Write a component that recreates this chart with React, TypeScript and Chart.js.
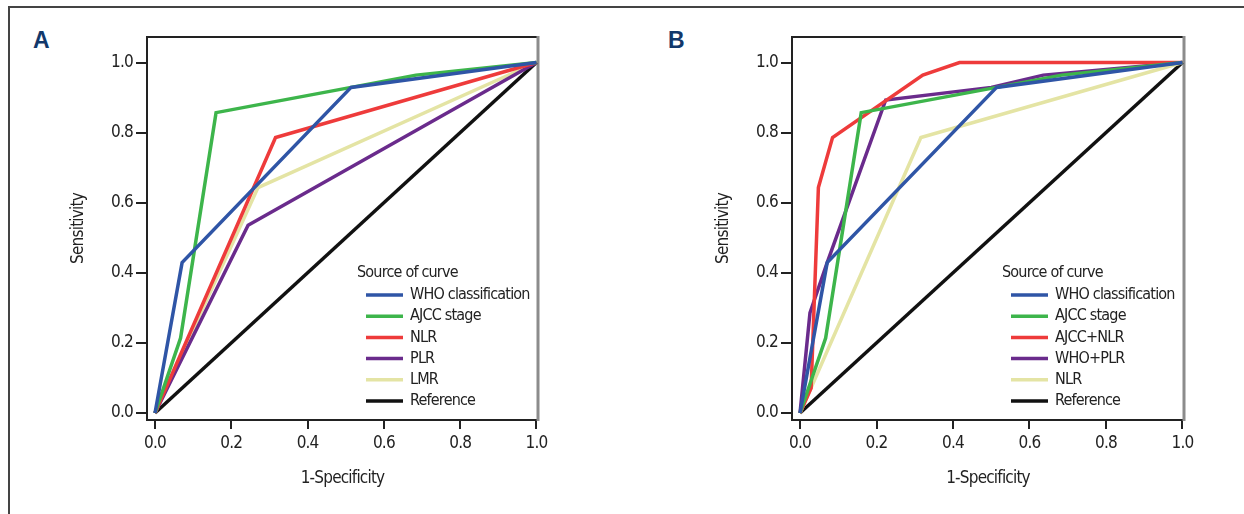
import React, { useEffect, useRef } from "react";
import { Chart, registerables } from "chart.js";

Chart.register(...registerables);

// ---------- data ----------
const tickValues = [0, 0.2, 0.4, 0.6, 0.8, 1.0];
const legendTitle = "Source of curve";
const xAxisTitle = "1-Specificity";
const yAxisTitle = "Sensitivity";

// Panel A
const aLabels = ["WHO classification", "AJCC stage", "NLR", "PLR", "LMR", "Reference"];
const aWhoX = [0, 0.071, 0.514, 1];
const aWhoY = [0, 0.429, 0.929, 1];
const aAjccX = [0, 0.067, 0.16, 0.514, 0.684, 1];
const aAjccY = [0, 0.214, 0.857, 0.929, 0.964, 1];
const aNlrX = [0, 0.316, 1];
const aNlrY = [0, 0.786, 1];
const aPlrX = [0, 0.244, 1];
const aPlrY = [0, 0.536, 1];
const aLmrX = [0, 0.27, 1];
const aLmrY = [0, 0.643, 1];
const refX = [0, 1];
const refY = [0, 1];

// Panel B
const bLabels = ["WHO classification", "AJCC stage", "AJCC+NLR", "WHO+PLR", "NLR", "Reference"];
const bWhoX = [0, 0.071, 0.514, 1];
const bWhoY = [0, 0.429, 0.929, 1];
const bAjccX = [0, 0.067, 0.16, 0.514, 0.684, 1];
const bAjccY = [0, 0.214, 0.857, 0.929, 0.964, 1];
const bAjccNlrX = [0, 0.029, 0.048, 0.085, 0.321, 0.417, 1];
const bAjccNlrY = [0, 0.071, 0.643, 0.786, 0.964, 1, 1];
const bWhoPlrX = [0, 0.026, 0.071, 0.224, 0.5, 0.636, 1];
const bWhoPlrY = [0, 0.286, 0.429, 0.893, 0.929, 0.964, 1];
const bNlrX = [0, 0.316, 1];
const bNlrY = [0, 0.786, 1];

const colorsA = ["#2f55a6", "#3db54b", "#ee3b3b", "#6a2b8c", "#e4e4a4", "#111111"];
const colorsB = ["#2f55a6", "#3db54b", "#ee3b3b", "#6a2b8c", "#e4e4a4", "#111111"];

const FONT = "'Liberation Sans Narrow', 'DejaVu Sans Condensed', 'Arial Narrow', sans-serif";

function pts(xs: number[], ys: number[]) {
  return xs.map((x, i) => ({ x, y: ys[i] }));
}

const spacingPlugin = {
  id: "spacing",
  beforeDraw(chart: any) {
    try {
      (chart.ctx as any).letterSpacing = "-0.8px";
    } catch (e) {}
  },
};

const framePlugin = {
  id: "frame",
  beforeDatasetsDraw(chart: any) {
    const { ctx, chartArea } = chart;
    const { left, top, right, bottom } = chartArea;
    ctx.save();
    ctx.strokeStyle = "#222";
    ctx.lineWidth = 2;
    ctx.beginPath();
    ctx.moveTo(right, top);
    ctx.lineTo(left, top);
    ctx.lineTo(left, bottom);
    ctx.lineTo(right, bottom);
    ctx.stroke();
    ctx.strokeStyle = "#8c8c8c";
    ctx.lineWidth = 3;
    ctx.beginPath();
    ctx.moveTo(right, top - 1);
    ctx.lineTo(right, bottom + 1);
    ctx.stroke();
    ctx.restore();
  },
};

const roclegendPlugin = {
  id: "roclegend",
  afterDatasetsDraw(chart: any) {
    const { ctx, chartArea } = chart;
    const { left, top } = chartArea;
    ctx.save();
    ctx.font = `16px ${FONT}`;
    ctx.textBaseline = "middle";
    ctx.textAlign = "left";
    ctx.fillStyle = "#222";
    ctx.fillText(legendTitle, left + 210, top + 236);
    chart.data.datasets.forEach((ds: any, i: number) => {
      const y = top + 258 + i * 21.2;
      ctx.strokeStyle = ds.borderColor;
      ctx.lineWidth = 3.5;
      ctx.beginPath();
      ctx.moveTo(left + 219, y);
      ctx.lineTo(left + 256, y);
      ctx.stroke();
      ctx.fillStyle = "#222";
      ctx.fillText(ds.label, left + 263, y);
    });
    ctx.restore();
  },
};

function makeConfig(labels: string[], series: { x: number[]; y: number[] }[], colors: string[]): any {
  const font = { family: FONT, size: 17 };
  return {
    type: "line",
    data: {
      datasets: series.map((s, i) => ({
        label: labels[i],
        data: pts(s.x, s.y),
        borderColor: colors[i],
        backgroundColor: colors[i],
        borderWidth: 3.5,
        pointRadius: 0,
        fill: false,
        tension: 0,
      })),
    },
    options: {
      responsive: false,
      animation: false,
      events: [],
      layout: { padding: { top: 17, right: 22, left: 0, bottom: 0 } },
      plugins: { legend: { display: false }, tooltip: { enabled: false } },
      scales: {
        x: {
          type: "linear",
          min: -0.021,
          max: 1.004,
          afterBuildTicks: (a: any) => {
            a.ticks = tickValues.map((v) => ({ value: v }));
          },
          afterFit: (a: any) => {
            a.height = 80;
          },
          ticks: {
            font,
            color: "#222",
            padding: 4,
            maxRotation: 0,
            autoSkip: false,
            callback: (v: any) => Number(v).toFixed(1),
          },
          grid: { drawOnChartArea: false, drawTicks: true, tickLength: 9, color: "#222", lineWidth: 2 },
          border: { display: false },
          title: { display: true, text: xAxisTitle, font, color: "#222", padding: { top: 0, bottom: 11 } },
        },
        y: {
          type: "linear",
          min: -0.02,
          max: 1.0728,
          afterBuildTicks: (a: any) => {
            a.ticks = tickValues.map((v) => ({ value: v }));
          },
          afterFit: (a: any) => {
            a.width = 87;
          },
          ticks: {
            font,
            color: "#222",
            padding: 3,
            autoSkip: false,
            callback: (v: any) => Number(v).toFixed(1),
          },
          grid: { drawOnChartArea: false, drawTicks: true, tickLength: 11, color: "#222", lineWidth: 2 },
          border: { display: false },
          title: { display: true, text: yAxisTitle, font, color: "#222", padding: { top: 8, bottom: 0 } },
        },
      },
    },
    plugins: [spacingPlugin, framePlugin, roclegendPlugin],
  };
}

function Panel(props: { left: number; width: number; labels: string[]; series: { x: number[]; y: number[] }[]; colors: string[] }) {
  const ref = useRef<HTMLCanvasElement | null>(null);
  useEffect(() => {
    if (!ref.current) return;
    const chart = new Chart(ref.current, makeConfig(props.labels, props.series, props.colors));
    return () => chart.destroy();
  }, []);
  return (
    <canvas
      ref={ref}
      width={props.width}
      height={480}
      style={{ position: "absolute", left: props.left, top: 20, width: props.width, height: 480 }}
    />
  );
}

export default function App() {
  const seriesA = [
    { x: aWhoX, y: aWhoY },
    { x: aAjccX, y: aAjccY },
    { x: aNlrX, y: aNlrY },
    { x: aPlrX, y: aPlrY },
    { x: aLmrX, y: aLmrY },
    { x: refX, y: refY },
  ];
  const seriesB = [
    { x: bWhoX, y: bWhoY },
    { x: bAjccX, y: bAjccY },
    { x: bAjccNlrX, y: bAjccNlrY },
    { x: bWhoPlrX, y: bWhoPlrY },
    { x: bNlrX, y: bNlrY },
    { x: refX, y: refY },
  ];
  const letter: React.CSSProperties = {
    position: "absolute",
    top: 28,
    fontFamily: "'Liberation Sans', Arial, sans-serif",
    fontWeight: 700,
    fontSize: 23,
    color: "#12386b",
    lineHeight: "24px",
  };
  return (
    <div style={{ position: "fixed", left: 0, top: 0, width: 1244, height: 514, overflow: "hidden", background: "#fff" }}>
      <div
        style={{
          position: "absolute",
          left: 8,
          top: 6,
          width: 1300,
          height: 600,
          borderLeft: "2px solid #444",
          borderTop: "2px solid #444",
        }}
      />
      <div style={{ ...letter, left: 33 }}>A</div>
      <div style={{ ...letter, left: 668 }}>B</div>
      <Panel left={60} width={500} labels={aLabels} series={seriesA} colors={colorsA} />
      <Panel left={705} width={501} labels={bLabels} series={seriesB} colors={colorsB} />
    </div>
  );
}
